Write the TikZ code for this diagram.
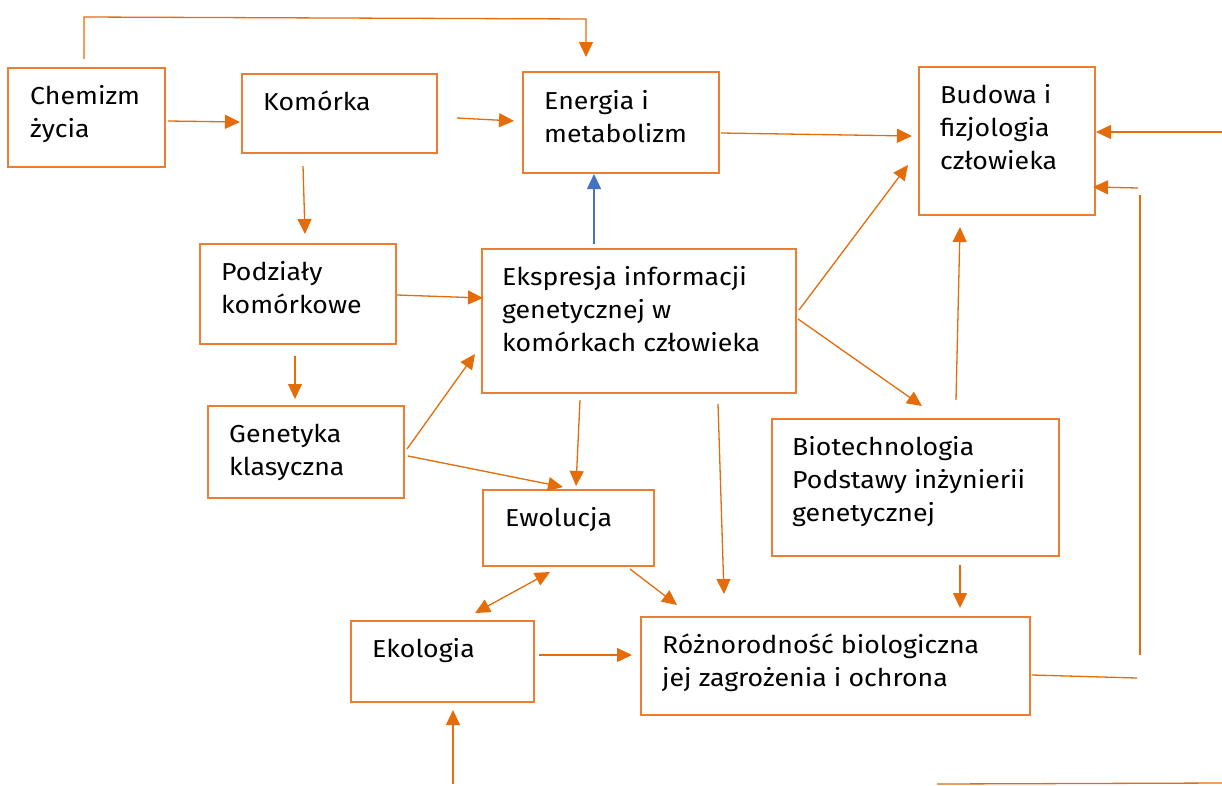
\documentclass[tikz,border=0pt]{standalone}
\usepackage{fontspec}
\setmainfont{Fira Sans}[FakeStretch=1.09]
\usetikzlibrary{arrows.meta}
\definecolor{boxline}{RGB}{237,125,49}
\definecolor{arrline}{RGB}{228,108,10}
\definecolor{arrblue}{RGB}{68,114,196}
\tikzset{
  box/.style={draw=boxline, line width=1.5pt, inner sep=0pt, outer sep=0pt, anchor=north west},
  lbl/.style={anchor=base west, inner sep=0pt, align=left, font=\fontsize{24.5}{33}\selectfont, text=black},
  arr/.style={draw=arrline, line width=1.3pt, -{Triangle[length=15pt,width=14pt]}},
  twoway/.style={draw=arrline, line width=1.3pt, {Triangle[length=15pt,width=14pt]}-{Triangle[length=15pt,width=14pt]}},
  plain/.style={draw=arrline, line width=1.3pt},
  bluearr/.style={draw=arrblue, line width=1.3pt, -{Triangle[length=15pt,width=14pt]}}
}
\begin{document}
\begin{tikzpicture}[x=1pt,y=-1pt]
\useasboundingbox (0,0) rectangle (1222,785);

% boxes
\node[box, minimum width=157, minimum height=99] (chem) at (8,68) {};
\node[box, minimum width=195, minimum height=79] (kom) at (242,74) {};
\node[box, minimum width=196, minimum height=101] (ener) at (523,72) {};
\node[box, minimum width=176, minimum height=148] (bud) at (919,67) {};
\node[box, minimum width=196, minimum height=100] (podz) at (200,244) {};
\node[box, minimum width=314, minimum height=144] (ekspr) at (482,249) {};
\node[box, minimum width=196, minimum height=92] (gen) at (208,406) {};
\node[box, minimum width=171, minimum height=76] (ewol) at (483,490) {};
\node[box, minimum width=287, minimum height=137] (bio) at (772,419) {};
\node[box, minimum width=183, minimum height=81] (eko) at (351,621) {};
\node[box, minimum width=389, minimum height=98] (rozn) at (641,617) {};

% labels (anchored at the baseline of their last line)
\node[lbl] (chemT) at (30,137) {Chemizm\\życia};
\node[lbl] (komT) at (263,110) {Komórka};
\node[lbl] (enerT) at (544,142) {Energia i\\metabolizm};
\node[lbl] (budT) at (940,169) {Budowa i\\fizjologia\\człowieka};
\node[lbl] (podzT) at (221,313) {Podziały\\komórkowe};
\node[lbl] (eksprT) at (502,351) {Ekspresja informacji\\genetycznej w\\komórkach człowieka};
\node[lbl] (genT) at (229,475) {Genetyka\\klasyczna};
\node[lbl] (ewolT) at (505,526) {Ewolucja};
\node[lbl] (bioT) at (792,521) {Biotechnologia\\Podstawy inżynierii\\genetycznej};
\node[lbl] (ekoT) at (372,657) {Ekologia};
\node[lbl] (roznT) at (662,686) {Różnorodność biologiczna\\jej zagrożenia i ochrona};

% free ends of the outer lines
\coordinate (loopL) at (84,17);
\coordinate (loopR) at (586,19);
\coordinate (sideA) at (1137,678);
\coordinate (sideB) at (1140,655);
\coordinate (sideC) at (1140,195);
\coordinate (sideD) at (1138,188);
\coordinate (rightIn) at (1222,132);
\coordinate (bottomIn) at (453,784);
\coordinate (baseL) at (937,784);
\coordinate (baseR) at (1222,783);

% connectors
\draw[arr] ([shift={(76,-9)}]chem.north west) -- (loopL) -- (loopR) -- ([shift={(63,-15)}]ener.north west);
\draw[arr] ([shift={(160,53)}]chem.north west) -- ([shift={(-2,48)}]kom.north west);
\draw[arr] ([shift={(215,44)}]kom.north west) -- ([shift={(-9,49)}]ener.north west);
\draw[arr] ([shift={(198,61)}]ener.north west) -- ([shift={(-7,69)}]bud.north west);
\draw[arr] ([shift={(61,92)}]kom.north west) -- ([shift={(105,-10)}]podz.north west);
\draw[arr] ([shift={(197,51)}]podz.north west) -- ([shift={(1,49)}]ekspr.north west);
\draw[arr] ([shift={(95,112)}]podz.north west) -- ([shift={(87,-7)}]gen.north west);
\draw[arr] ([shift={(199,43)}]gen.north west) -- ([shift={(-7,105)}]ekspr.north west);
\draw[arr] ([shift={(200,50)}]gen.north west) -- ([shift={(80,-3)}]ewol.north west);
\draw[arr] ([shift={(98,151)}]ekspr.north west) -- ([shift={(93,-4)}]ewol.north west);
\draw[bluearr] ([shift={(112,-5)}]ekspr.north west) -- ([shift={(71,102)}]ener.north west);
\draw[arr] ([shift={(317,61)}]ekspr.north west) -- ([shift={(-11,98)}]bud.north west);
\draw[arr] ([shift={(316,70)}]ekspr.north west) -- ([shift={(150,-13)}]bio.north west);
\draw[arr] ([shift={(184,-19)}]bio.north west) -- ([shift={(41,160)}]bud.north west);
\draw[arr] ([shift={(236,155)}]ekspr.north west) -- ([shift={(83,-23)}]rozn.north west);
\draw[arr] ([shift={(147,79)}]ewol.north west) -- ([shift={(36,-12)}]rozn.north west);
\draw[twoway] ([shift={(67,82)}]ewol.north west) -- ([shift={(124,-8)}]eko.north west);
\draw[arr] ([shift={(188,34)}]eko.north west) -- ([shift={(-9,38)}]rozn.north west);
\draw[arr] ([shift={(188,146)}]bio.north west) -- ([shift={(319,-9)}]rozn.north west);
\draw[plain] ([shift={(391,58)}]rozn.north west) -- (sideA);
\draw[plain] (sideB) -- (sideC);
\draw[arr] (sideD) -- ([shift={(174,120)}]bud.north west);
\draw[arr] (rightIn) -- ([shift={(177,65)}]bud.north west);
\draw[arr] (bottomIn) -- ([shift={(102,89)}]eko.north west);
\draw[plain] (baseL) -- (baseR);
\end{tikzpicture}
\end{document}
